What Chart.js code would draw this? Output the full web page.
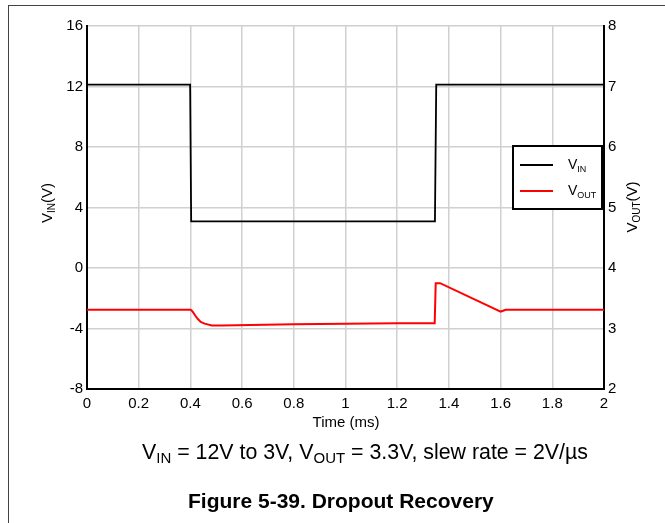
<!DOCTYPE html>
<html><head><meta charset="utf-8">
<script src="https://cdn.jsdelivr.net/npm/chart.js@4/dist/chart.umd.min.js"></script>
<style>
html,body{margin:0;padding:0;background:#fff;}
#wrap{position:relative;width:665px;height:523px;overflow:hidden;font-family:"Liberation Sans",Arial,sans-serif;color:#000;}
#c{position:absolute;left:0;top:0;}
.frameL{position:absolute;left:8px;top:5px;width:1px;height:518px;background:#444;}
.frameT{position:absolute;left:8px;top:5px;width:657px;height:1px;background:#444;}
.ytitle{position:absolute;font-size:15px;white-space:nowrap;line-height:1;transform:translate(-50%,-50%) rotate(-90deg);}
.ytitle sub{font-size:10px;vertical-align:-3px;}
#xtitle{position:absolute;left:346px;top:414px;transform:translateX(-50%);font-size:15px;line-height:1;white-space:nowrap;}
#legend{position:absolute;left:512px;top:145px;width:87px;height:61px;border:2px solid #000;background:#fff;}
.li{position:absolute;left:0;width:87px;height:20px;}
.li .sw{position:absolute;left:6px;top:9px;width:33px;height:2px;}
.li .tx{position:absolute;left:54px;top:2px;font-size:14px;line-height:1;white-space:nowrap;}
.li .tx sub{font-size:9px;vertical-align:-3px;}
#cap{position:absolute;left:142px;top:442px;font-size:21.35px;line-height:1;white-space:nowrap;}
#cap sub{font-size:15px;vertical-align:-4px;}
#fig{position:absolute;left:188px;top:490px;font-size:21px;font-weight:bold;line-height:1;white-space:nowrap;}
</style>
</head><body>
<div id="wrap">
<canvas id="c" width="665" height="523"></canvas>
<div class="frameL"></div><div class="frameT"></div>
<div class="ytitle" style="left:48px;top:203px;">V<sub>IN</sub>(V)</div>
<div class="ytitle" style="left:633px;top:207px;">V<sub>OUT</sub>(V)</div>
<div id="xtitle">Time (ms)</div>
<div id="legend"></div>
<div id="cap">V<sub>IN</sub> = 12V to 3V, V<sub>OUT</sub> = 3.3V, slew rate = 2V/µs</div>
<div id="fig">Figure 5-39. Dropout Recovery</div>
</div>
<script>
// Data (time in ms)
const vinTime = [0, 0.399, 0.403, 1.346, 1.351, 2.0];
const vinValues = [12.12, 12.12, 3.08, 3.08, 12.13, 12.13];
const voutTime = [0, 0.400, 0.404, 0.410, 0.418, 0.428, 0.44, 0.455, 0.483, 0.52, 0.8, 1.0, 1.2, 1.345, 1.349, 1.366, 1.60, 1.62, 2.0];
const voutValues = [3.31, 3.31, 3.30, 3.27, 3.22, 3.16, 3.11, 3.08, 3.05, 3.05, 3.07, 3.08, 3.085, 3.085, 3.75, 3.75, 3.28, 3.31, 3.31];
const xTicks = [0, 0.2, 0.4, 0.6, 0.8, 1, 1.2, 1.4, 1.6, 1.8, 2];
const xTickLabels = ['0','0.2','0.4','0.6','0.8','1','1.2','1.4','1.6','1.8','2'];
const vinTicks = [-8, -4, 0, 4, 8, 12, 16];
const voutTicks = [2, 3, 4, 5, 6, 7, 8];
const seriesBase = ['V', 'V'];
const seriesSub = ['IN', 'OUT'];
const seriesColors = ['#000000', '#ff0000'];

const toPts = (xs, ys) => xs.map((x, i) => ({x: x, y: ys[i]}));

// legend
const leg = document.getElementById('legend');
seriesBase.forEach((b, i) => {
  const d = document.createElement('div');
  d.className = 'li';
  d.style.top = (i === 0 ? 8 : 34) + 'px';
  d.innerHTML = '<div class="sw" style="background:' + seriesColors[i] + '"></div><div class="tx">' + b + '<sub>' + seriesSub[i] + '</sub></div>';
  leg.appendChild(d);
});

const tickFont = {family: '"Liberation Sans", Arial, sans-serif', size: 15};
const setTicks = (arr) => (scale) => { scale.ticks = arr.map(v => ({value: v})); };

new Chart(document.getElementById('c'), {
  type: 'scatter',
  data: {
    datasets: [
      {label: 'VIN', data: toPts(vinTime, vinValues), yAxisID: 'y', showLine: true, borderColor: seriesColors[0], borderWidth: 1.8, pointRadius: 0, tension: 0},
      {label: 'VOUT', data: toPts(voutTime, voutValues), yAxisID: 'y1', showLine: true, borderColor: seriesColors[1], borderWidth: 2, pointRadius: 0, tension: 0}
    ]
  },
  options: {
    responsive: false,
    animation: false,
    devicePixelRatio: 1,
    layout: {padding: {top: 26, left: 0, right: 0, bottom: 0}},
    plugins: {legend: {display: false}, tooltip: {enabled: false}},
    scales: {
      x: {
        type: 'linear', min: 0, max: 2,
        afterBuildTicks: setTicks(xTicks),
        afterFit: (s) => { s.height = 523 - 389; },
        ticks: {font: tickFont, color: '#000', padding: 6, autoSkip: false, maxRotation: 0,
          callback: (v) => { const i = xTicks.indexOf(v); return i >= 0 ? xTickLabels[i] : ''; }},
        grid: {color: '#d0d0d0', lineWidth: 1.5, drawTicks: false},
        border: {display: true, color: '#000', width: 2}
      },
      y: {
        type: 'linear', position: 'left', min: -8, max: 16,
        afterBuildTicks: setTicks(vinTicks),
        afterFit: (s) => { s.width = 87; },
        ticks: {font: tickFont, color: '#000', padding: 4, autoSkip: false},
        grid: {color: '#d0d0d0', lineWidth: 1.5, drawTicks: false},
        border: {display: true, color: '#000', width: 2}
      },
      y1: {
        type: 'linear', position: 'right', min: 2, max: 8,
        afterBuildTicks: setTicks(voutTicks),
        afterFit: (s) => { s.width = 665 - 604; },
        ticks: {font: tickFont, color: '#000', padding: 4, autoSkip: false},
        grid: {drawOnChartArea: false, drawTicks: false},
        border: {display: true, color: '#000', width: 2}
      }
    }
  }
});
</script>
</body></html>
